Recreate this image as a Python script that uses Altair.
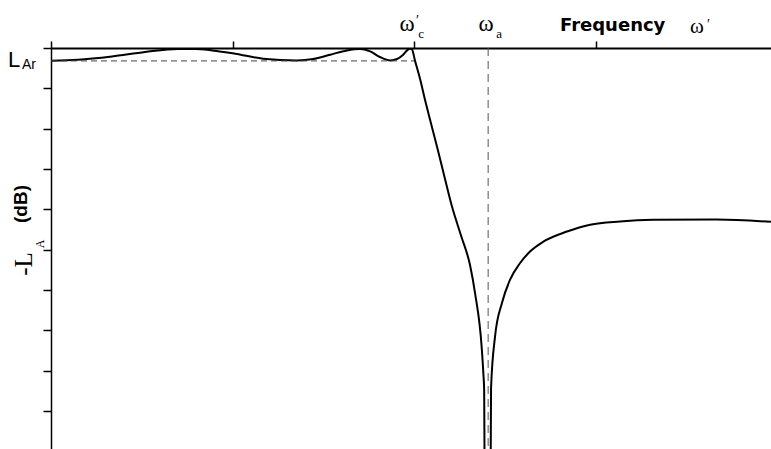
import altair as alt
import pandas as pd

# Normalised frequency (omega' / omega'_c) and attenuation response -L_A in dB
omega = [0.000, 0.074, 0.168, 0.259, 0.350, 0.397, 0.444, 0.507, 0.584, 0.678,
         0.722, 0.769, 0.815, 0.851, 0.879, 0.906, 0.934, 0.953, 0.970, 0.983,
         0.993, 1.003, 1.017, 1.030, 1.044, 1.063, 1.085, 1.105, 1.129, 1.154,
         1.168, 1.186, 1.191, 1.193, 1.194, 1.198, 1.204, 1.207, 1.211, 1.212,
         1.223, 1.242, 1.264, 1.292, 1.320, 1.356, 1.421, 1.485, 1.567, 1.659,
         1.834, 1.983]
loss_db = [-3.15, -2.90, -2.08, -0.99, -0.25, -0.25, -0.60, -1.41, -2.65, -3.07,
           -2.73, -1.66, -0.60, -0.25, -0.84, -2.23, -3.07, -2.73, -1.66, -0.42,
           -0.12, -3.32, -7.86, -12.8, -17.8, -24.4, -32.4, -39.5, -46.4, -53.8,
           -60.8, -74.0, -81.0, -84.8, -102.0, -136.0, -500.0, -136.0, -102.0, -84.3,
           -71.5, -63.2, -57.5, -53.3, -50.4, -48.0, -45.5, -43.8, -43.0, -42.6,
           -42.5, -43.1]

x_ticks = [0.0, 0.5, 1.0, 1.5]
y_ticks = [0, -10, -20, -30, -40, -50, -60, -70, -80, -90]

OMEGA_C = 1.0      # passband edge
OMEGA_A = 1.204    # attenuation pole
L_AR = -3.2        # passband ripple level
X_MAX = 1.983
Y_MIN = -99.4

W, H = 720, 401
OX, OY = 51, 48   # plot origin inside the canvas

curve_df = pd.DataFrame({"omega": omega, "loss": loss_db, "idx": range(len(omega))})

xs = alt.Scale(domain=[0, X_MAX], nice=False, zero=False)
ys = alt.Scale(domain=[Y_MIN, 0], nice=False, zero=False)

x_axis = alt.Axis(orient="top", values=x_ticks, labels=False, title=None, grid=False,
                  tickSize=7, tickWidth=1.5, tickColor="black",
                  domainWidth=2, domainColor="black")
y_axis = alt.Axis(orient="left", values=y_ticks, labels=False, title=None, grid=False,
                  tickSize=8, tickWidth=1.5, tickColor="black",
                  domainWidth=1.5, domainColor="black")

curve = alt.Chart(curve_df).mark_line(
    color="black", strokeWidth=2, clip=True, interpolate="monotone"
).encode(
    x=alt.X("omega:Q", scale=xs, axis=x_axis),
    y=alt.Y("loss:Q", scale=ys, axis=y_axis),
    order="idx:Q",
)

ripple_df = pd.DataFrame({"omega": [0.0], "omega2": [OMEGA_C], "loss": [L_AR]})
ripple = alt.Chart(ripple_df).mark_rule(
    color="#444444", strokeWidth=1, strokeDash=[6, 4]
).encode(
    x=alt.X("omega:Q", scale=xs),
    x2="omega2:Q",
    y=alt.Y("loss:Q", scale=ys),
)

pole_df = pd.DataFrame({"omega": [OMEGA_A], "loss": [0.0], "loss2": [Y_MIN]})
pole = alt.Chart(pole_df).mark_rule(
    color="#555555", strokeWidth=1, strokeDash=[8, 5]
).encode(
    x=alt.X("omega:Q", scale=xs),
    y=alt.Y("loss:Q", scale=ys),
    y2="loss2:Q",
)

blank = alt.Data(values=[{}])


def label(text, px, py, font, size, weight="normal", align="left",
          baseline="alphabetic", angle=0):
    """Text placed at canvas pixel (px, py)."""
    mark = dict(text=text, font=font, fontSize=size, fontWeight=weight,
                align=align, baseline=baseline, color="black")
    if angle:
        mark["angle"] = angle
    return alt.Chart(blank).mark_text(**mark).encode(
        x=alt.value(px - OX), y=alt.value(py - OY)
    )


def at_omega(text, w, dx, py, font, size, align="center", baseline="alphabetic"):
    """Text anchored to a frequency on the shared x scale."""
    return alt.Chart(blank).mark_text(
        text=text, font=font, fontSize=size, align=align, baseline=baseline,
        dx=dx, color="black"
    ).encode(x=alt.datum(w, scale=xs), y=alt.value(py - OY))


SERIF = "'Liberation Serif', 'Times New Roman', 'DejaVu Serif', serif"
SANS = "'Liberation Sans', Arial, sans-serif"

labels = [
    # L_Ar ripple level
    label("L", 8, 67, SANS, 22),
    label("Ar", 22, 69, SANS, 14),
    # omega'_c
    at_omega("ω", OMEGA_C, -7, 31, SERIF, 23),
    at_omega("′", OMEGA_C, 2, 14, SERIF, 14, align="left", baseline="top"),
    at_omega("c", OMEGA_C, 7, 38, SERIF, 13),
    # omega_a
    at_omega("ω", OMEGA_A, -2, 31, SERIF, 23),
    at_omega("a", OMEGA_A, 11, 38, SERIF, 13),
    # frequency axis name
    label("Frequency", 560, 31, "DejaVu Sans", 18, weight="bold"),
    label("ω", 697, 33, SERIF, 21, align="center"),
    label("′", 707, 18, SERIF, 14, baseline="top"),
    # vertical axis name
    label("(dB)", 21, 204, SANS, 19, weight="bold", align="center",
          baseline="middle", angle=270),
    label("-L", 24, 264, SERIF, 25, align="center", baseline="middle", angle=270),
    label("A", 40, 244, SERIF, 12, align="center", baseline="middle", angle=270),
]

chart = alt.layer(curve, ripple, pole, *labels).properties(
    width=W, height=H,
    autosize=alt.AutoSizeParams(type="none"),
    padding={"left": OX, "top": OY, "right": 0, "bottom": 0},
    background="white",
).configure_view(strokeWidth=0)

chart.save("out.html", embed_options={"renderer": "svg", "actions": False})
